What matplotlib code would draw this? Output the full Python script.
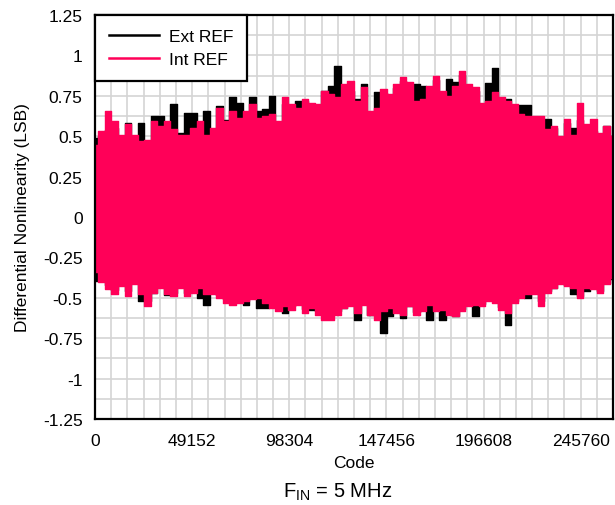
import numpy as np
import matplotlib
matplotlib.use("Agg")
import matplotlib.pyplot as plt

# ---- data (envelope of DNL per code segment) ----
n_codes = 262144
x_ticks = [0, 49152, 98304, 147456, 196608, 245760]
y_ticks = [-1.25, -1, -0.75, -0.5, -0.25, 0, 0.25, 0.5, 0.75, 1, 1.25]
y_tick_labels = ["-1.25", "-1", "-0.75", "-0.5", "-0.25", "0", "0.25", "0.5", "0.75", "1", "1.25"]

int_upper = [0.448, 0.531, 0.656, 0.594, 0.51, 0.573, 0.51, 0.469, 0.479, 0.594,
             0.563, 0.594, 0.542, 0.51, 0.51, 0.552, 0.594, 0.51, 0.552, 0.677,
             0.594, 0.656, 0.615, 0.656, 0.698, 0.615, 0.625, 0.635, 0.594, 0.74,
             0.698, 0.677, 0.729, 0.708, 0.698, 0.781, 0.76, 0.74, 0.823, 0.844,
             0.719, 0.802, 0.656, 0.677, 0.792, 0.76, 0.823, 0.865, 0.833, 0.719,
             0.729, 0.813, 0.875, 0.781, 0.75, 0.813, 0.906, 0.823, 0.802, 0.708,
             0.719, 0.771, 0.74, 0.719, 0.698, 0.635, 0.625, 0.625, 0.625, 0.542,
             0.563, 0.5, 0.604, 0.51, 0.708, 0.573, 0.604, 0.52, 0.563, 0.5]
int_lower = [-0.34, -0.40, -0.448, -0.479, -0.427, -0.49, -0.417, -0.479, -0.552, -0.469,
             -0.4375, -0.479, -0.49, -0.4375, -0.49, -0.469, -0.4375, -0.479, -0.479, -0.5,
             -0.531, -0.542, -0.531, -0.521, -0.51, -0.5, -0.531, -0.5625, -0.583, -0.552,
             -0.573, -0.542, -0.594, -0.5625, -0.604, -0.635, -0.635, -0.604, -0.5625, -0.552,
             -0.594, -0.542, -0.604, -0.635, -0.583, -0.5625, -0.594, -0.604, -0.552, -0.604,
             -0.583, -0.542, -0.583, -0.573, -0.604, -0.615, -0.583, -0.552, -0.542, -0.552,
             -0.521, -0.531, -0.573, -0.594, -0.531, -0.5, -0.479, -0.479, -0.55, -0.469,
             -0.4375, -0.417, -0.427, -0.4375, -0.5, -0.4375, -0.448, -0.469, -0.417, -0.375]
ext_upper = [0.49, 0.50, 0.54, 0.55, 0.50, 0.58, 0.50, 0.583, 0.47, 0.625,
             0.625, 0.56, 0.698, 0.52, 0.646, 0.646, 0.58, 0.656, 0.54, 0.688,
             0.60, 0.74, 0.708, 0.64, 0.74, 0.656, 0.667, 0.75, 0.58, 0.70,
             0.69, 0.719, 0.72, 0.69, 0.68, 0.781, 0.81, 0.935, 0.80, 0.78,
             0.73, 0.823, 0.63, 0.771, 0.77, 0.74, 0.80, 0.84, 0.80, 0.823,
             0.813, 0.79, 0.85, 0.76, 0.854, 0.833, 0.88, 0.80, 0.78, 0.69,
             0.83, 0.925, 0.72, 0.729, 0.68, 0.69, 0.69, 0.61, 0.60, 0.604,
             0.55, 0.48, 0.58, 0.552, 0.60, 0.55, 0.53, 0.50, 0.563, 0.50]
ext_lower = [-0.396, -0.38, -0.42, -0.45, -0.41, -0.46, -0.40, -0.52, -0.52, -0.47,
             -0.43, -0.48, -0.47, -0.42, -0.47, -0.45, -0.50, -0.542, -0.46, -0.48,
             -0.51, -0.52, -0.51, -0.542, -0.49, -0.5625, -0.5625, -0.55, -0.56, -0.594,
             -0.55, -0.52, -0.57, -0.573, -0.58, -0.573, -0.573, -0.58, -0.5625, -0.54,
             -0.635, -0.53, -0.604, -0.60, -0.72, -0.615, -0.58, -0.625, -0.55, -0.59,
             -0.57, -0.635, -0.57, -0.635, -0.59, -0.615, -0.57, -0.54, -0.615, -0.54,
             -0.51, -0.52, -0.56, -0.667, -0.52, -0.49, -0.50, -0.47, -0.52, -0.46,
             -0.4375, -0.41, -0.42, -0.479, -0.49, -0.458, -0.44, -0.46, -0.41, -0.385]

codes = np.linspace(0, n_codes - 1, len(int_upper))

pink = "#FF0058"

plt.rcParams["font.family"] = ["Liberation Sans", "DejaVu Sans"]
fig = plt.figure(figsize=(6.15, 5.06), dpi=100)
ax = fig.add_axes([95 / 615, 1 - 420 / 506, (613 - 95) / 615, (420 - 16) / 506])

for lo, hi, col, lab in [(ext_lower, ext_upper, "black", "Ext REF"),
                         (int_lower, int_upper, pink, "Int REF")]:
    ax.fill_between(codes, lo, hi, step="mid", color=col, lw=0, zorder=3)
    ax.plot(codes, hi, drawstyle="steps-mid", color=col, lw=1.0, zorder=3)
    ax.plot(codes, lo, drawstyle="steps-mid", color=col, lw=1.0, zorder=3, label=lab)

ax.set_xlim(0, n_codes)
ax.set_ylim(-1.25, 1.25)
ax.set_xticks(x_ticks)
ax.set_xticklabels([str(v) for v in x_ticks])
ax.set_yticks(y_ticks)
ax.set_yticklabels(y_tick_labels)
ax.set_xticks(np.arange(0, n_codes + 1, 8192), minor=True)
ax.set_yticks(np.arange(-1.25, 1.26, 0.125), minor=True)
ax.grid(which="both", color="#d4d4d4", lw=1.2, zorder=0)
ax.set_axisbelow(True)
ax.tick_params(which="both", length=0, labelsize=12.5)
ax.tick_params(axis="y", pad=9)
ax.tick_params(axis="x", pad=10)
for s in ax.spines.values():
    s.set_linewidth(1.6)
    s.set_color("black")
    s.set_zorder(5)

ax.set_xlabel("Code", fontsize=12.5, labelpad=5)
ax.set_ylabel("Differential Nonlinearity (LSB)", fontsize=12.5, labelpad=9)

leg = ax.legend(loc="upper left", borderaxespad=0, fontsize=12.5, fancybox=False,
                framealpha=1, edgecolor="black", handlelength=2.9, handletextpad=0.55,
                borderpad=0.8, labelspacing=0.45)
leg.get_frame().set_linewidth(1.6)
for h in leg.get_lines():
    h.set_linewidth(1.8)
leg.set_zorder(6)

fig.text(338 / 615, 1 - 492 / 506, r"F$_{\mathregular{IN}}$ = 5 MHz", ha="center", va="center",
         fontsize=14.5)

fig.savefig("out.png", dpi=100)
